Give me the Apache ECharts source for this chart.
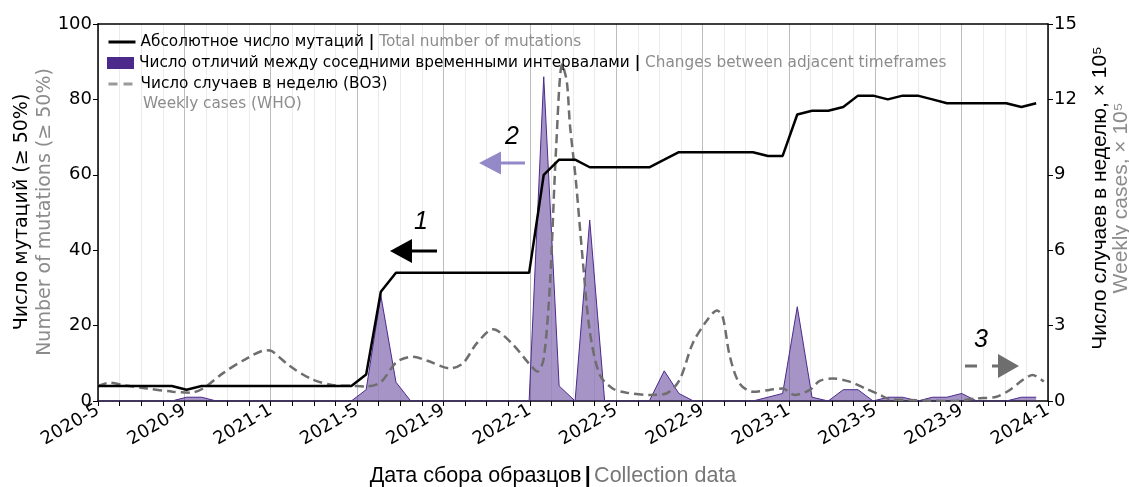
<!DOCTYPE html>
<html><head><meta charset="utf-8">
<script src="https://cdn.jsdelivr.net/npm/echarts@6/dist/echarts.min.js"></script>
<style>html,body{margin:0;padding:0;background:#fff}#c{width:1129px;height:487px}</style>
</head><body><div id="c"></div>
<script>
// ---- data ----
const xTickLabels = ['2020-5','2020-9','2021-1','2021-5','2021-9','2022-1','2022-5','2022-9','2023-1','2023-5','2023-9','2024-1'];
const sampleDates = ['2020-05-01','2020-05-22','2020-06-12','2020-07-03','2020-07-24','2020-08-14','2020-09-04','2020-09-25','2020-10-16','2020-11-06','2020-11-27','2020-12-18',
 '2021-01-08','2021-01-29','2021-02-19','2021-03-12','2021-04-02','2021-04-23','2021-05-14','2021-06-04','2021-06-25','2021-07-16','2021-08-06','2021-08-27','2021-09-17','2021-10-08','2021-10-29','2021-11-19','2021-12-10','2021-12-31',
 '2022-01-21','2022-02-11','2022-03-04','2022-03-25','2022-04-15','2022-05-06','2022-05-27','2022-06-17','2022-07-08','2022-07-29','2022-08-19','2022-09-09','2022-09-30','2022-10-21','2022-11-11','2022-12-02','2022-12-23',
 '2023-01-13','2023-02-03','2023-02-24','2023-03-17','2023-04-07','2023-04-28','2023-05-19','2023-06-09','2023-06-30','2023-07-21','2023-08-11','2023-09-01','2023-09-22','2023-10-13','2023-11-03','2023-11-24','2023-12-15'];
const totalMutations = [4,4,4,4,4,4, 3, 4,4,4,4,4,4,4,4,4,4,4, 7, 29, 34,34,34,34,34,34,34,34,34,34, 60, 64,64, 62,62,62,62,62, 64, 66,66,66,66,66,66, 65,65, 76, 77,77, 78, 81,81, 80, 81,81, 80, 79,79,79,79,79, 78, 79];
const changes = [0,0,0,0,0,0, 1,1, 0,0,0,0,0,0,0,0,0,0, 3, 28, 5, 0, 0,0,0,0,0,0,0,0, 86, 4, 0, 48, 0,0,0,0, 8, 2, 0,0,0,0,0, 1, 2, 25, 1, 0, 3, 3, 0, 1, 1, 0, 1, 1, 2, 0, 0, 0, 1, 1];
const caseDates = ['2020-05-01','2020-05-18','2020-06-08','2020-07-09','2020-08-15','2020-09-09','2020-09-27','2020-10-25','2020-11-28','2020-12-26',
 '2021-01-03','2021-01-28','2021-02-26','2021-03-27','2021-04-25','2021-05-15','2021-06-04','2021-06-26','2021-07-19','2021-08-09','2021-09-10','2021-09-28','2021-10-18','2021-11-10','2021-12-06',
 '2022-01-01','2022-01-12','2022-01-21','2022-01-30','2022-02-07','2022-02-15','2022-02-21','2022-02-25','2022-03-05','2022-03-15','2022-03-25','2022-04-08','2022-04-26','2022-05-16','2022-06-18','2022-07-11','2022-07-30','2022-08-18','2022-09-07','2022-09-21','2022-09-29','2022-10-09','2022-10-23','2022-11-11','2022-12-04','2022-12-23',
 '2023-01-09','2023-01-31','2023-02-13','2023-03-02','2023-03-26','2023-04-17','2023-05-08','2023-05-22','2023-06-19','2023-07-17','2023-08-19','2023-09-22','2023-10-20','2023-11-08','2023-11-26','2023-12-10','2023-12-26'];
const weeklyCases = [0.6,0.73,0.62,0.5,0.37,0.33,0.5,1.1,1.7,2.02,
 1.98,1.4,0.87,0.64,0.6,0.58,0.75,1.55,1.76,1.6,1.3,1.5,2.3,2.85,2.3,
 1.45,1.17,1.7,4.7,10,13.4,12.7,11.0,8.8,5.6,2.8,1.05,0.5,0.33,0.24,0.3,0.84,2.3,3.2,3.6,3.35,1.8,0.7,0.37,0.44,0.5,
 0.24,0.44,0.8,0.9,0.77,0.5,0.24,0.07,0.04,0.01,0,0.1,0.17,0.44,0.84,1.03,0.77]; // × 10^5

// date -> months since 2020-05
function toMonth(s){const p=s.split('-').map(Number);const dim=new Date(p[0],p[1],0).getDate();return (p[0]-2020)*12+(p[1]-5)+(p[2]-1)/dim;}

const GRAY='#8c8c8c';
const DV='"DejaVu Sans", sans-serif';
const LS='"Liberation Sans", Arial, sans-serif';
const legendLabels = {
  total: '{a|Абсолютное число мутаций} {s||} {b|Total number of mutations}',
  changes: '{a|Число отличий между соседними временными интервалами} {s||} {b|Changes between adjacent timeframes}',
  cases: '{a|Число случаев в неделю (ВОЗ)}'
};
const LFS = 15.3;
const legendText = {fontFamily: DV, fontSize: LFS, color: '#000', lineHeight: 20,
  rich: {a: {fontFamily: DV, fontSize: LFS, color: '#000', lineHeight: 20},
         s: {fontFamily: DV, fontSize: LFS, color: '#000', fontWeight: 'bold', lineHeight: 20},
         b: {fontFamily: DV, fontSize: LFS, color: GRAY, lineHeight: 20}}};
function mkLegend(top, item){
  return {orient: 'vertical', left: 107, top: top, itemWidth: 27, itemHeight: 12, padding: 0,
    textStyle: legendText, formatter: n => legendLabels[n], data: [item]};
}
function txt(x, y, text, font, fill, rot){
  return {type: 'text', x: x, y: y, z: 100, rotation: rot || 0, silent: true,
    style: {text: text, font: font, fill: fill, stroke: 'none', lineWidth: 0,
      align: 'center', verticalAlign: 'middle', textAlign: 'center', textVerticalAlign: 'middle'}};
}

const chart = echarts.init(document.getElementById('c'), null, {renderer:'canvas'});
const axisLabelStyle = {fontFamily: DV, fontSize: 18, color: '#000'};
chart.setOption({
  animation: false,
  backgroundColor: '#fff',
  grid: {left: 98, right: 81, top: 24, bottom: 86},
  xAxis: [{
    type: 'value', min: 0, max: 44, interval: 1,
    axisLine: {show: true, onZero: false, lineStyle: {color: '#000', width: 1.5}},
    axisTick: {show: true, length: 5, lineStyle: {color: '#000', width: 1}},
    axisLabel: Object.assign({rotate: 30, margin: 8, formatter: v => (v % 4 === 0 ? xTickLabels[v / 4] : '')}, axisLabelStyle),
    splitLine: {show: true, lineStyle: {color: ['#bdbdbd','#ebebeb','#ebebeb','#ebebeb'], width: 1}}
  },{
    type: 'value', position: 'top', min: 0, max: 44,
    axisLine: {show: true, onZero: false, lineStyle: {color: '#000', width: 1.5}},
    axisTick: {show: false}, axisLabel: {show: false}, splitLine: {show: false}
  }],
  yAxis: [{
    type: 'value', min: 0, max: 100, interval: 20, position: 'left',
    axisLine: {show: true, onZero: false, lineStyle: {color: '#000', width: 1.5}},
    axisTick: {show: true, length: 5, lineStyle: {color: '#000'}},
    axisLabel: Object.assign({margin: 6}, axisLabelStyle),
    splitLine: {show: false}
  },{
    type: 'value', min: 0, max: 15, interval: 3, position: 'right',
    axisLine: {show: true, onZero: false, lineStyle: {color: '#000', width: 1.5}},
    axisTick: {show: true, length: 5, lineStyle: {color: '#000'}},
    axisLabel: Object.assign({margin: 6}, axisLabelStyle),
    splitLine: {show: false}
  }],
  legend: [
    mkLegend(32, {name: 'total', lineStyle: {color: '#000', width: 3}, itemStyle: {opacity: 0}}),
    mkLegend(53, {name: 'changes', icon: 'rect', itemStyle: {color: '#4b2a8c', opacity: 1, borderWidth: 0}}),
    mkLegend(74, {name: 'cases', lineStyle: {color: '#9a9a9a', width: 3, type: [9, 6]}, itemStyle: {opacity: 0}})
  ],
  series: [{
    name: 'changes', type: 'line', xAxisIndex: 0, yAxisIndex: 0, symbol: 'none', z: 1,
    lineStyle: {color: '#4b2a8c', width: 1}, itemStyle: {color: '#4b2a8c'},
    areaStyle: {color: '#4b2a8c', opacity: 0.5},
    data: sampleDates.map((d, i) => [toMonth(d), changes[i]])
  },{
    name: 'cases', type: 'line', xAxisIndex: 0, yAxisIndex: 1, symbol: 'none', smooth: 0.3, z: 2,
    lineStyle: {color: '#6e6e6e', width: 2.5, type: [9, 5]}, itemStyle: {color: '#6e6e6e'},
    data: caseDates.map((d, i) => [toMonth(d), weeklyCases[i]])
  },{
    name: 'total', type: 'line', xAxisIndex: 0, yAxisIndex: 0, symbol: 'none', z: 3,
    lineStyle: {color: '#000', width: 2.5}, itemStyle: {color: '#000'},
    data: sampleDates.map((d, i) => [toMonth(d), totalMutations[i]])
  }],
  graphic: [
    {type: 'text', x: 143, y: 104, z: 100, silent: true, style: {text: 'Weekly cases (WHO)', font: LFS + 'px ' + DV, fill: GRAY, stroke: 'none', lineWidth: 0, align: 'left', verticalAlign: 'middle', textAlign: 'left', textVerticalAlign: 'middle'}},
    // left axis titles
    txt(22, 212, 'Число мутаций (≥ 50%)', '19px ' + DV, '#000', Math.PI / 2),
    txt(45, 212, 'Number of mutations (≥ 50%)', '19px ' + DV, GRAY, Math.PI / 2),
    // right axis titles
    txt(1100, 198, 'Число случаев в неделю, × 10⁵', '21px ' + LS, '#000', Math.PI / 2),
    txt(1121, 198, 'Weekly cases, × 10⁵', '21px ' + LS, GRAY, Math.PI / 2),
    // x axis title
    {type: 'text', x: 553, y: 476, z: 100, silent: true, style: {text: '{a|Дата сбора образцов} {s||} {b|Collection data}', stroke: 'none', lineWidth: 0,
      align: 'center', verticalAlign: 'middle', textAlign: 'center', textVerticalAlign: 'middle',
      rich: {a: {fontFamily: LS, fontSize: 21.5, fill: '#000'}, s: {fontFamily: LS, fontSize: 21.5, fontWeight: 'bold', fill: '#000'}, b: {fontFamily: LS, fontSize: 21.5, fill: '#777'}}}},
    // annotation 1
    txt(421, 222, '1', 'italic 25px ' + LS, '#000'),
    {type: 'line', z: 100, silent: true, shape: {x1: 409, y1: 251, x2: 437, y2: 251}, style: {stroke: '#000', lineWidth: 3}},
    {type: 'polygon', z: 100, silent: true, shape: {points: [[390, 251], [412, 239], [412, 263]]}, style: {fill: '#000', stroke: 'none'}},
    // annotation 2
    txt(512, 137, '2', 'italic 25px ' + LS, '#000'),
    {type: 'line', z: 100, silent: true, shape: {x1: 498, y1: 163, x2: 525, y2: 163}, style: {stroke: '#9389c8', lineWidth: 3}},
    {type: 'polygon', z: 100, silent: true, shape: {points: [[479, 163], [501, 151.5], [501, 174.5]]}, style: {fill: '#9389c8', stroke: 'none'}},
    // annotation 3
    txt(981, 340, '3', 'italic 25px ' + LS, '#000'),
    {type: 'line', z: 100, silent: true, shape: {x1: 965, y1: 366, x2: 1000, y2: 366}, style: {stroke: '#6e6e6e', lineWidth: 3, lineDash: [12, 15]}},
    {type: 'polygon', z: 100, silent: true, shape: {points: [[1019, 366], [998, 354], [998, 378]]}, style: {fill: '#6e6e6e', stroke: 'none'}}
  ]
});
</script></body></html>
